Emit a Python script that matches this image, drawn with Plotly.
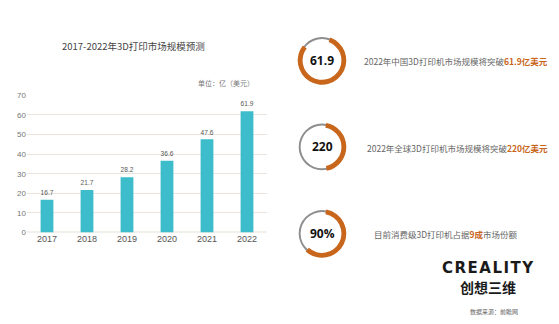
import plotly.graph_objects as go

W, H = 559, 324

years = ["2017", "2018", "2019", "2020", "2021", "2022"]
market = [16.7, 21.7, 28.2, 36.6, 47.6, 61.9]
y_ticks = [0, 10, 20, 30, 40, 50, 60, 70]

donut_labels = ["61.9", "220", "90%"]
donut_share = [0.80, 0.44, 0.59]
donut_rotation = [20, 10, 10]
donut_text_plain = ["2022年中国3D打印机市场规模将突破", "2022年全球3D打印机市场规模将突破", "目前消费级3D打印机占据"]
donut_text_hl = ["61.9亿美元", "220亿美元", "9成"]
donut_text_tail = ["", "", "市场份额"]

TEAL = "#3dbdcb"
ORANGE = "#c8661c"
GRAY = "#8e8e8e"
CJK = "Noto Sans CJK SC, Noto Sans, sans-serif"
LAT = "Liberation Sans, Arial, sans-serif"


def fx(x):
    return x / W


def fy(y):
    return 1 - y / H


fig = go.Figure()
fig.add_trace(go.Bar(
    x=years, y=market, marker=dict(color=TEAL, line=dict(width=0)),
    text=[f"{v:.1f}" for v in market], textposition="outside",
    textfont=dict(size=7.5, color="#555", family=LAT), cliponaxis=False,
    showlegend=False, hoverinfo="skip",
))

# donuts
centers_y = [58, 147, 236]
cx = 322
R_or, R_in_or = 25, 20
R_gr, R_in_gr = 24, 22
for i, cy in enumerate(centers_y):
    fig.add_trace(go.Pie(
        values=[1], marker=dict(colors=[GRAY], line=dict(width=0)),
        hole=R_in_gr / R_gr, textinfo="none", sort=False, showlegend=False,
        hoverinfo="skip",
        domain=dict(x=[fx(cx - R_gr), fx(cx + R_gr)], y=[fy(cy + R_gr), fy(cy - R_gr)]),
    ))
    fig.add_trace(go.Pie(
        values=[donut_share[i], 1 - donut_share[i]],
        marker=dict(colors=[ORANGE, "rgba(0,0,0,0)"], line=dict(width=0)),
        hole=R_in_or / R_or, textinfo="none", sort=False, direction="clockwise",
        rotation=donut_rotation[i], showlegend=False, hoverinfo="skip",
        domain=dict(x=[fx(cx - R_or), fx(cx + R_or)], y=[fy(cy + R_or), fy(cy - R_or)]),
    ))

P = dict(xref="paper", yref="paper", showarrow=False)
ann = []
for i, cy in enumerate(centers_y):
    ann.append(dict(x=fx(cx), y=fy(cy), text=f"<b>{donut_labels[i]}</b>",
                    xanchor="center", yanchor="middle",
                    font=dict(size=12, color="#111", family="Open Sans, " + CJK), **P))
text_x = [362, 365, 372]
for i, cy in enumerate(centers_y):
    t = (donut_text_plain[i] + f"<b><span style='color:{ORANGE}'>{donut_text_hl[i]}</span></b>"
         + donut_text_tail[i])
    ann.append(dict(x=fx(text_x[i]), y=fy(cy + 1), text=t,
                    xanchor="left", yanchor="middle",
                    font=dict(size=8.5, color="#666", family=CJK), **P))

logo = "\u200a".join("CREALITY")
ann += [
    dict(x=fx(133), y=fy(43), text="2017-2022年3D打印市场规模预测",
         xanchor="center", yanchor="middle", font=dict(size=9.5, color="#444", family=CJK), **P),
    dict(x=fx(256), y=fy(81), text="单位：亿（美元）",
         xanchor="right", yanchor="middle", font=dict(size=7, color="#777", family=CJK), **P),
    dict(x=fx(488), y=fy(272), text=f"<b>{logo}</b>",
         xanchor="center", yanchor="middle", font=dict(size=15, color="#1a1a1a", family="DejaVu Sans"), **P),
    dict(x=fx(488), y=fy(291), text="<b>创想三维</b>",
         xanchor="center", yanchor="middle", font=dict(size=14, color="#1a1a1a", family=CJK), **P),
    dict(x=fx(494), y=fy(316), text="数据来源：前瞻网",
         xanchor="center", yanchor="middle", font=dict(size=6, color="#666", family=CJK), **P),
]

fig.update_layout(
    width=W, height=H, margin=dict(l=0, r=0, t=0, b=0),
    paper_bgcolor="white", plot_bgcolor="white",
    bargap=0.68, showlegend=False, annotations=ann,
    xaxis=dict(domain=[fx(27), fx(267)], showgrid=False, showline=False, ticks="",
               tickfont=dict(size=9, color="#555", family=LAT), fixedrange=True),
    yaxis=dict(domain=[fy(235), fy(94)], range=[0, 70], tickvals=y_ticks,
               showgrid=True, gridcolor="#ece4dc", gridwidth=1, zeroline=True,
               zerolinecolor="#f3efeb", showline=False, ticks="",
               tickfont=dict(size=8, color="#777", family=LAT), fixedrange=True),
)

fig.write_html("out.html", config={"displayModeBar": False})
